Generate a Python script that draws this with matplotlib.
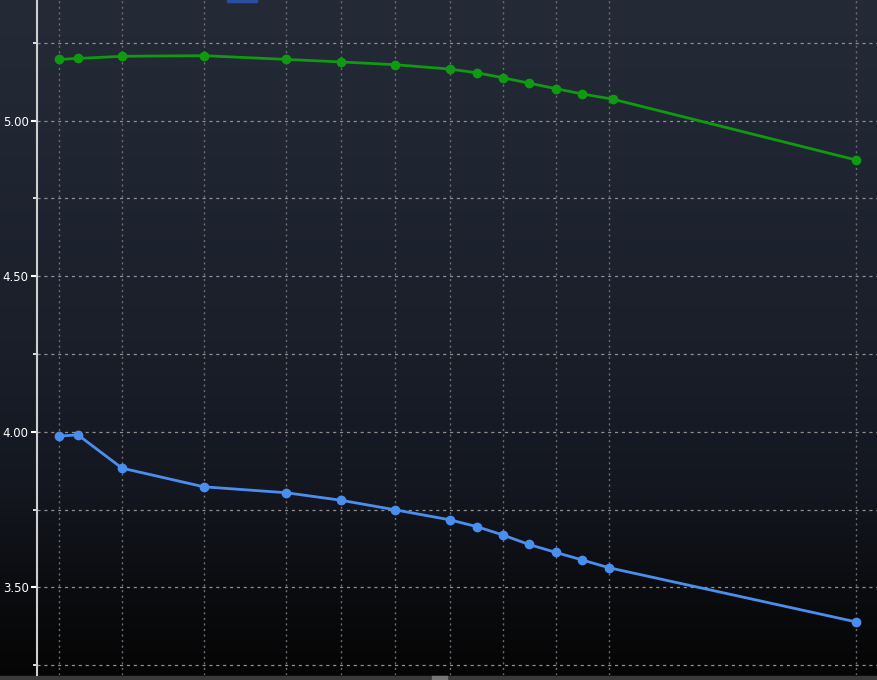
import numpy as np
import matplotlib
matplotlib.use("Agg")
import matplotlib.pyplot as plt
from matplotlib.colors import LinearSegmentedColormap
from matplotlib.ticker import FixedLocator, NullFormatter

# ---- data ----
blue_x = [0.0, 0.35, 1.16, 2.66, 4.17, 5.17, 6.17, 7.17, 7.67, 8.15, 8.62, 9.12, 9.60, 10.09, 14.62]
blue_y = [3.986, 3.990, 3.883, 3.823, 3.804, 3.780, 3.749, 3.717, 3.695, 3.668, 3.638, 3.612, 3.588, 3.563, 3.389]
green_x = [0.0, 0.35, 1.16, 2.66, 4.17, 5.17, 6.17, 7.17, 7.67, 8.15, 8.62, 9.12, 9.60, 10.17, 14.62]
green_y = [5.197, 5.200, 5.207, 5.209, 5.197, 5.189, 5.180, 5.166, 5.154, 5.138, 5.121, 5.103, 5.086, 5.069, 4.874]
x_grid = [0.0, 1.16, 2.66, 4.17, 5.17, 6.17, 7.17, 8.15, 9.12, 10.09, 14.62]
y_major = [3.50, 4.00, 4.50, 5.00]
y_minor = [3.25, 3.75, 4.25, 4.75, 5.25]
y_labels = ["3.50", "4.00", "4.50", "5.00"]

W, H = 878, 680
fig = plt.figure(figsize=(W / 100, H / 100), dpi=100)

# background gradient
bg = fig.add_axes([0, 0, 1, 1], zorder=-10)
cmap = LinearSegmentedColormap.from_list(
    "bg", [(0.0, "#242b37"), (0.5, "#1a1f2a"), (0.72, "#141720"), (0.87, "#0b0c0f"), (1.0, "#050505")])
grad = np.linspace(0, 1, 256).reshape(-1, 1)
bg.imshow(grad, aspect="auto", cmap=cmap, extent=[0, 1, 0, 1], origin="upper")
bg.set_xlim(0, 1)
bg.set_ylim(0, 1)
bg.axis("off")
# bottom scroll bar and top legend remnant
bg.add_patch(plt.Rectangle((0, 0), 1, 4 / H, color="#3a3a3a", transform=bg.transAxes))
bg.add_patch(plt.Rectangle((432 / W, 0), 15 / W, 4 / H, color="#777777", transform=bg.transAxes))
bg.add_patch(plt.Rectangle((227 / W, 1 - 1.5 / H), 30 / W, 1.5 / H, color="#2b4f9e", transform=bg.transAxes))

ax = fig.add_axes([37 / W, 5 / H, (W - 37) / W, (H - 5) / H])
ax.set_facecolor("none")
ax.patch.set_alpha(0)

ax.plot(green_x, green_y, color="#0f9a12", lw=2, marker="o", ms=6, zorder=3)
ax.plot(blue_x, blue_y, color="#4a8ff0", lw=2, marker="o", ms=6, zorder=3)

ax.set_xlim(-0.40, 15.03)
ax.set_ylim(3.218, 5.388)

ax.xaxis.set_major_locator(FixedLocator(x_grid))
ax.xaxis.set_major_formatter(NullFormatter())
ax.tick_params(axis="x", length=0)
ax.set_yticks(y_major)
ax.set_yticklabels(y_labels)
ax.set_yticks(y_minor, minor=True)
ax.tick_params(axis="y", which="major", colors="white", length=4, width=1.5, labelsize=8.5, pad=2)
ax.tick_params(axis="y", which="minor", colors="white", length=3, width=1.2)

ax.grid(True, axis="x", which="major", color="#6f6b72", linestyle=(0, (1.5, 2.5)), lw=1)
ax.grid(True, axis="y", which="both", color="#8e8e92", linestyle=(0, (2.5, 3)), lw=0.9)

for s in ["top", "right", "bottom"]:
    ax.spines[s].set_visible(False)
ax.spines["left"].set_color("#cfcfcf")
ax.spines["left"].set_linewidth(1.5)

fig.savefig("out.png", dpi=100)
